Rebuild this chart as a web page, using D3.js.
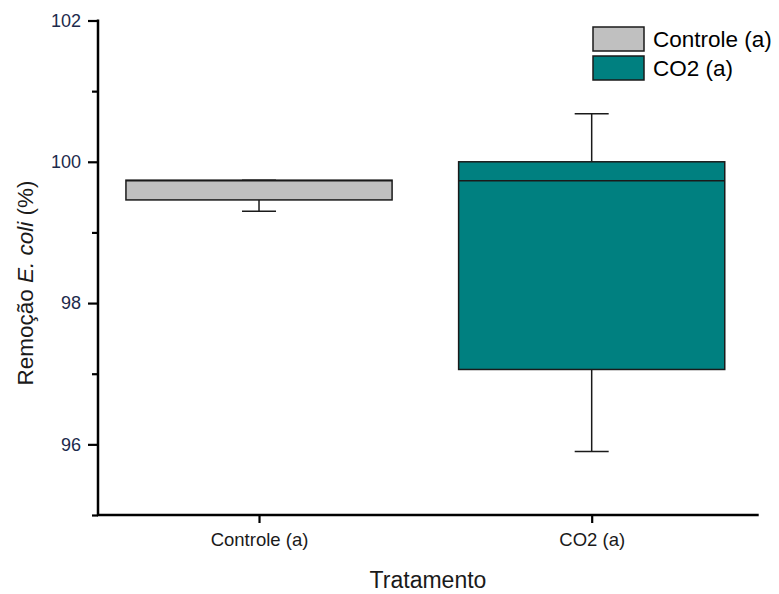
<!DOCTYPE html>
<html>
<head>
<meta charset="utf-8">
<script src="https://cdn.jsdelivr.net/npm/d3@7"></script>
<style>
  body { margin: 0; background: #fff; }
  text { font-family: "Liberation Sans", Arial, sans-serif; }
</style>
</head>
<body>
<svg id="chart" width="779" height="594"></svg>
<script>
// Treatment groups and their box-plot statistics (% E. coli removal)
const categories = ["Controle (a)", "CO2 (a)"];
const whiskerLow  = [99.30, 95.90];
const q1          = [99.46, 97.06];
const median      = [99.73, 99.73];
const q3          = [99.74, 100.00];
const whiskerHigh = [99.74, 100.68];
const fills       = ["#c0c0c0", "#008080"];
const majorTicks  = [96, 98, 100, 102];
const minorTicks  = [95, 97, 99, 101];

const svg = d3.select("#chart");
const plotLeft = 98, plotRight = 758.7, plotTop = 20.5, plotBottom = 515;

const y = d3.scaleLinear().domain([95, 102]).range([plotBottom, plotTop]);
const x = d3.scalePoint().domain(categories).range([plotLeft, 752.7]).padding(0.484);
const boxW = x.step() * 0.8;
const capW = 34;

const stroke = "#1a1a1a";

// boxes
const g = svg.append("g");
categories.forEach((c, i) => {
  const cx = x(c);
  // whiskers
  g.append("line").attr("x1", cx).attr("x2", cx)
    .attr("y1", y(q3[i])).attr("y2", y(whiskerHigh[i]))
    .attr("stroke", stroke).attr("stroke-width", 1.5);
  g.append("line").attr("x1", cx).attr("x2", cx)
    .attr("y1", y(q1[i])).attr("y2", y(whiskerLow[i]))
    .attr("stroke", stroke).attr("stroke-width", 1.5);
  g.append("rect")
    .attr("x", cx - boxW / 2).attr("width", boxW)
    .attr("y", y(q3[i])).attr("height", y(q1[i]) - y(q3[i]))
    .attr("fill", fills[i]).attr("stroke", stroke).attr("stroke-width", 1.5);
  g.append("line").attr("x1", cx - boxW / 2).attr("x2", cx + boxW / 2)
    .attr("y1", y(median[i])).attr("y2", y(median[i]))
    .attr("stroke", stroke).attr("stroke-width", 1.5);
  [whiskerLow[i], whiskerHigh[i]].forEach(v => {
    g.append("line").attr("x1", cx - capW / 2).attr("x2", cx + capW / 2)
      .attr("y1", y(v)).attr("y2", y(v))
      .attr("stroke", stroke).attr("stroke-width", 1.5);
  });
});

// y axis
const yAxis = svg.append("g").attr("transform", `translate(${plotLeft},0)`)
  .call(d3.axisLeft(y).tickValues(majorTicks).tickSize(10).tickPadding(7).tickFormat(d3.format("d")));
yAxis.select(".domain").remove();
yAxis.selectAll(".tick line").attr("stroke", "#000").attr("stroke-width", 2.2);
yAxis.selectAll(".tick text").attr("font-size", 18).attr("fill", "#1c2a4c")
  .attr("font-family", "Liberation Sans, Arial, sans-serif");
const yMinor = svg.append("g").attr("transform", `translate(${plotLeft},0)`)
  .call(d3.axisLeft(y).tickValues(minorTicks).tickSize(6).tickFormat(""));
yMinor.select(".domain").remove();
yMinor.selectAll(".tick line").attr("stroke", "#000").attr("stroke-width", 2.2);
svg.append("line").attr("x1", plotLeft).attr("x2", plotLeft).attr("y1", plotTop - 1).attr("y2", plotBottom + 1)
  .attr("stroke", "#000").attr("stroke-width", 2.5);

// x axis
const xAxis = svg.append("g").attr("transform", `translate(0,${plotBottom})`)
  .call(d3.axisBottom(x).tickSize(8).tickPadding(10));
xAxis.select(".domain").remove();
xAxis.selectAll(".tick line").attr("stroke", "#000").attr("stroke-width", 2.2);
xAxis.selectAll(".tick text").attr("font-size", 18.5).attr("fill", "#1a1a1a")
  .attr("font-family", "Liberation Sans, Arial, sans-serif");
svg.append("line").attr("x1", plotLeft - 1).attr("x2", plotRight).attr("y1", plotBottom).attr("y2", plotBottom)
  .attr("stroke", "#000").attr("stroke-width", 2.5);

// axis titles
svg.append("text").attr("x", (368 + 488) / 2).attr("y", 588)
  .attr("text-anchor", "middle").attr("font-size", 23).attr("fill", "#1a1a1a")
  .text("Tratamento");
const yt = svg.append("text")
  .attr("transform", `translate(33,${(388 + 178) / 2}) rotate(-90)`)
  .attr("text-anchor", "middle").attr("font-size", 22.5).attr("fill", "#1a1a1a");
yt.append("tspan").text("Remoção ");
yt.append("tspan").attr("font-style", "italic").text("E. coli");
yt.append("tspan").text(" (%)");

// legend
const legend = svg.append("g");
categories.forEach((c, i) => {
  const ly = 27 + i * 29;
  legend.append("rect").attr("x", 593).attr("y", ly).attr("width", 51).attr("height", 24)
    .attr("fill", fills[i]).attr("stroke", stroke).attr("stroke-width", 1.5);
  legend.append("text").attr("x", 653).attr("y", ly + 19.5)
    .attr("font-size", 22.5).attr("fill", "#000").text(c);
});
</script>
</body>
</html>
